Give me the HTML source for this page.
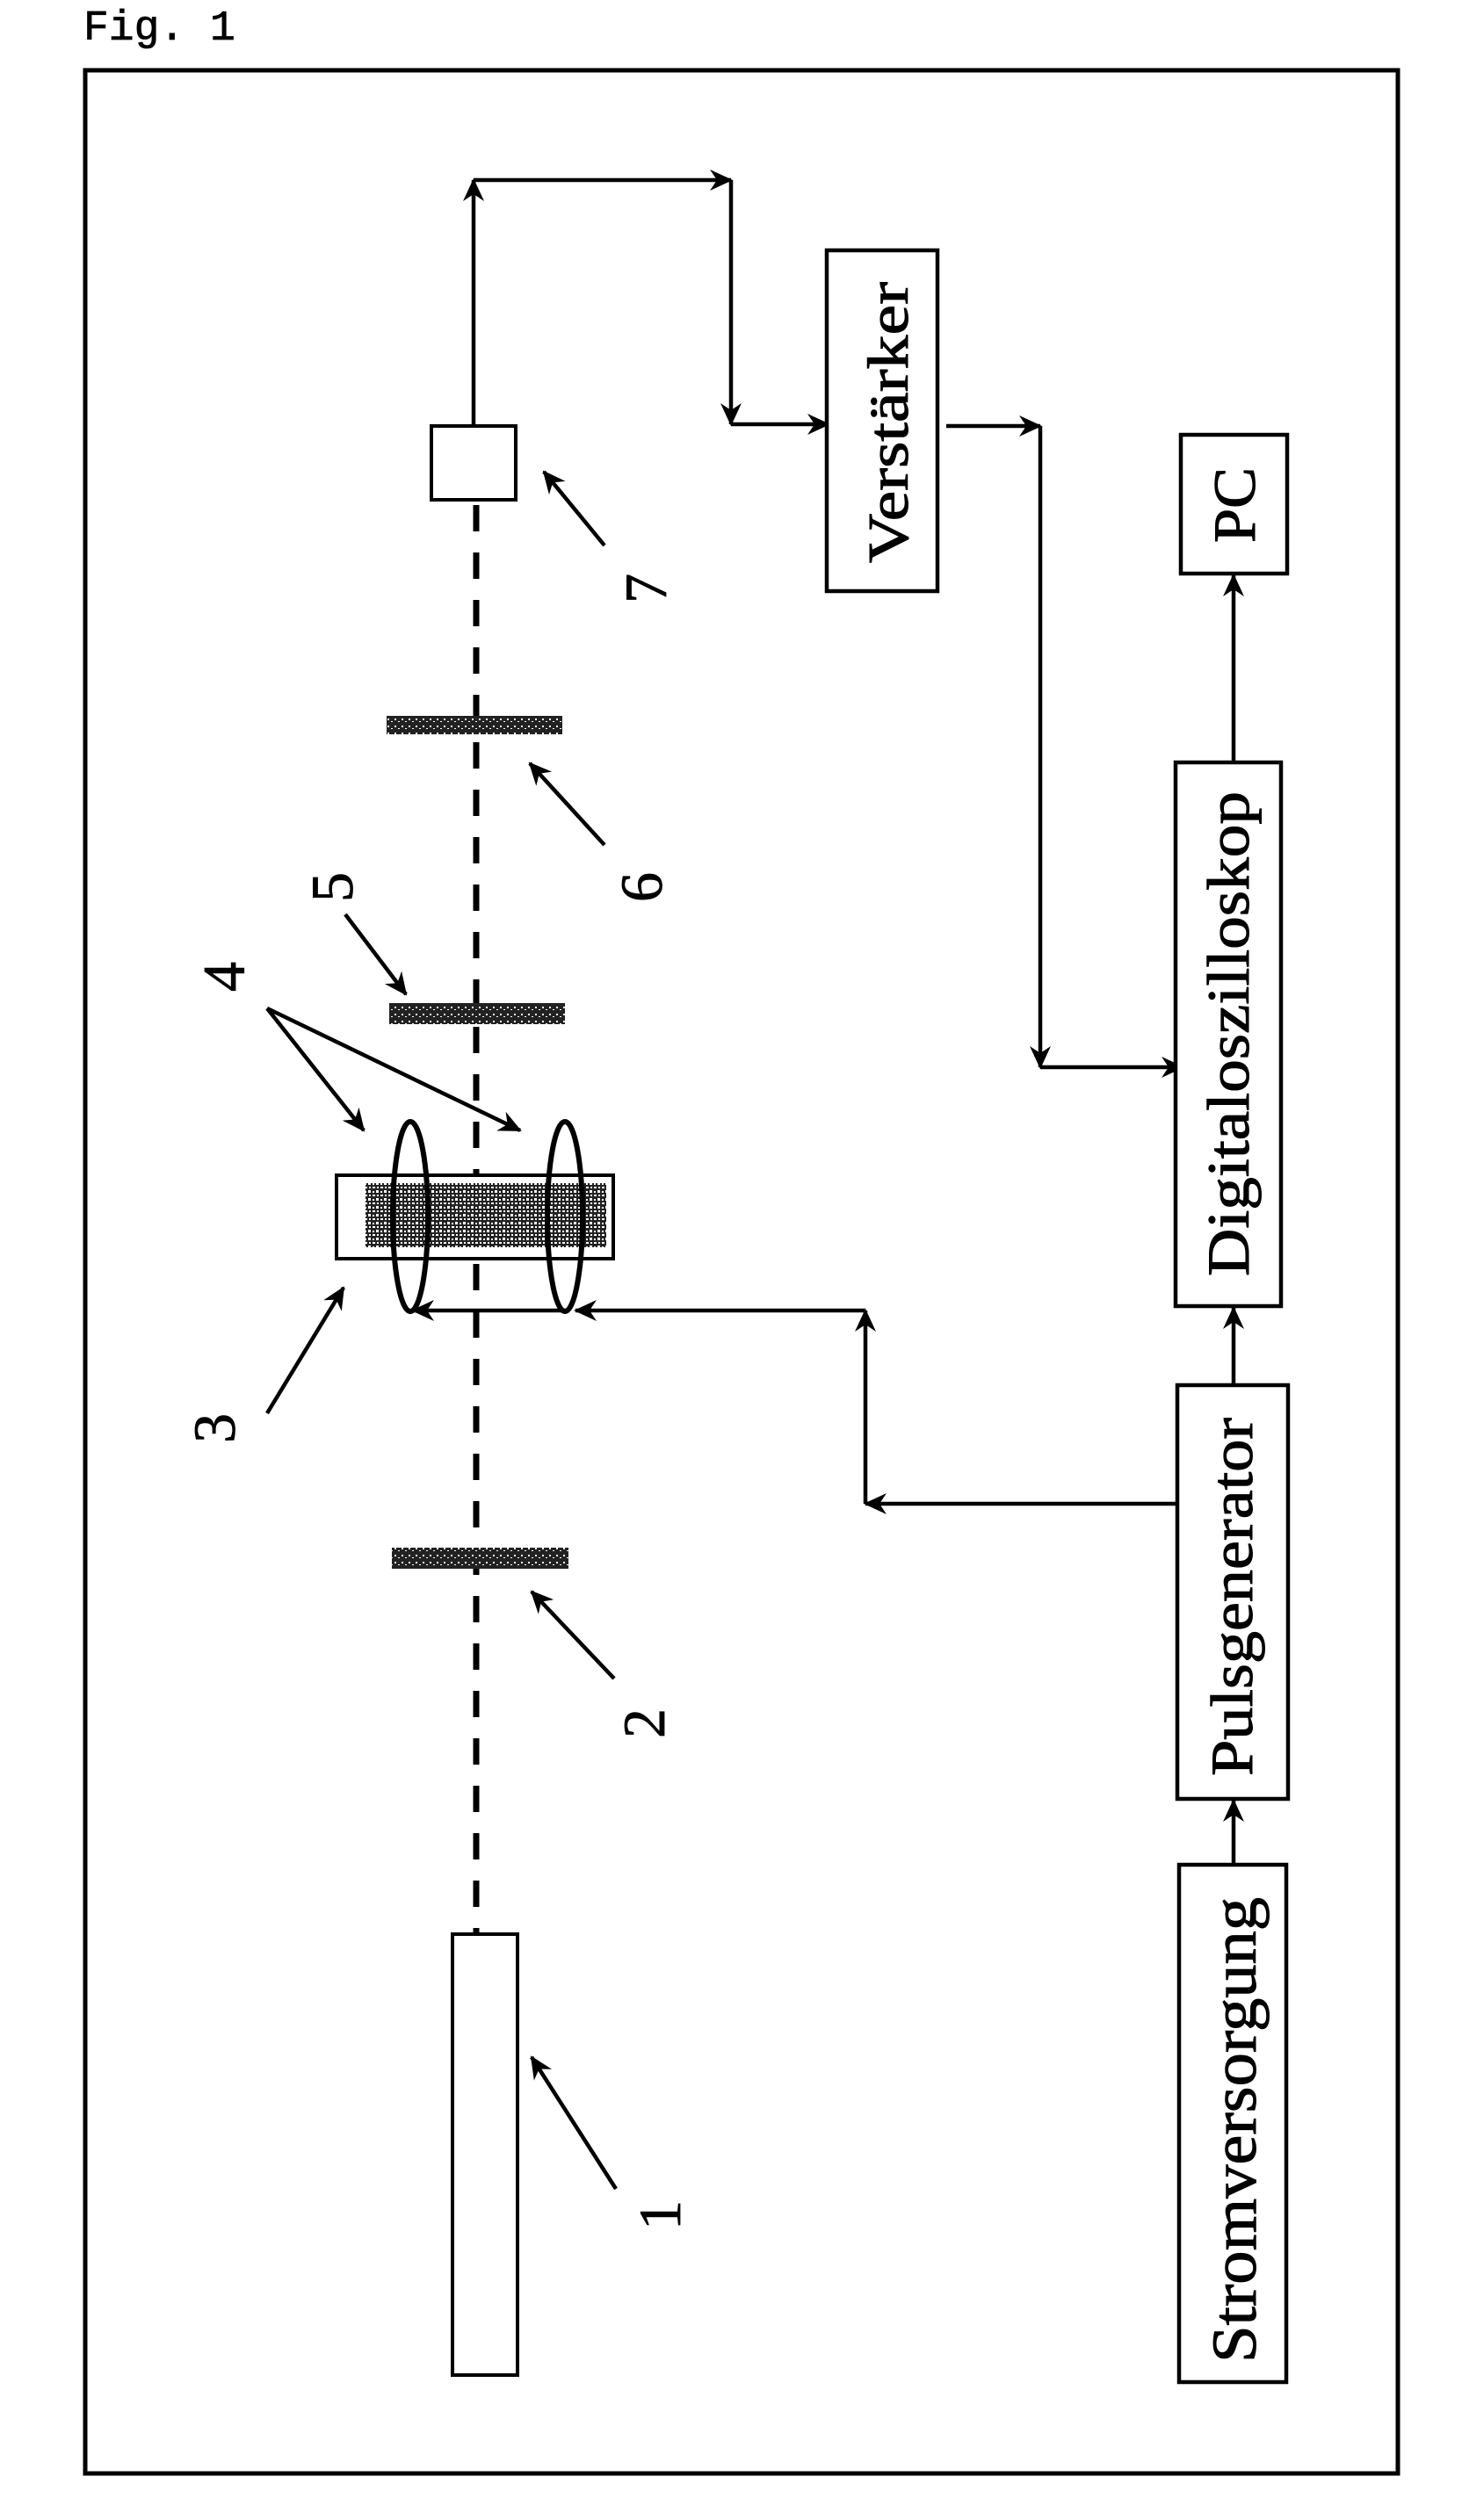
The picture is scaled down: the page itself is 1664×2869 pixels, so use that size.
<!DOCTYPE html>
<html><head><meta charset="utf-8"><style>
html,body{margin:0;padding:0;background:#fff;}
svg{display:block;}
</style></head><body>
<svg width="1664" height="2869" viewBox="0 0 1664 2869" xmlns="http://www.w3.org/2000/svg">
<defs>
<marker id="ah" viewBox="0 0 26 26" refX="24" refY="13" markerWidth="26" markerHeight="26" markerUnits="userSpaceOnUse" orient="auto">
<path d="M0,1 L26,13 L0,25 L8,13 Z" fill="#000"/>
</marker>
<pattern id="stip" width="8" height="8" patternUnits="userSpaceOnUse">
<rect width="8" height="8" fill="#222"/>
<rect x="1" y="2" width="2" height="2" fill="#fff"/>
<rect x="5" y="5" width="2" height="1" fill="#fff"/>
</pattern>
<pattern id="stip2" width="9" height="9" patternUnits="userSpaceOnUse">
<rect width="9" height="9" fill="#222"/>
<rect x="1" y="1" width="3" height="2" fill="#fff"/>
<rect x="5" y="5" width="3" height="3" fill="#fff"/>
<rect x="6" y="1" width="2" height="2" fill="#fff"/>
<rect x="1" y="6" width="2" height="2" fill="#fff"/>
</pattern>
</defs>

<text x="95" y="45" font-family="Liberation Mono, monospace" font-size="48" fill="#000" stroke="#000" stroke-width="0.8">Fig. 1</text>

<!-- frame -->
<rect x="97" y="80" width="1494" height="2736" fill="none" stroke="#000" stroke-width="5"/>

<!-- beam -->
<line x1="542" y1="575" x2="542" y2="2202" stroke="#000" stroke-width="7" stroke-dasharray="30,24"/>

<!-- detector 7 -->
<rect x="491" y="485" width="96" height="84" fill="#fff" stroke="#000" stroke-width="4"/>
<!-- filters -->
<rect x="440" y="815" width="200" height="21" fill="url(#stip)"/>
<rect x="443" y="1142" width="200" height="24" fill="url(#stip)"/>
<rect x="446" y="1762" width="201" height="24" fill="url(#stip)"/>
<!-- laser 1 -->
<rect x="515" y="2202" width="74" height="502" fill="#fff" stroke="#000" stroke-width="4"/>

<!-- cell 3 -->
<rect x="383" y="1338" width="315" height="95" fill="#fff" stroke="#000" stroke-width="4"/>
<rect x="416" y="1347" width="274" height="73" fill="url(#stip2)"/>
<!-- coils -->
<ellipse cx="467" cy="1385" rx="20" ry="108" fill="none" stroke="#000" stroke-width="6"/>
<ellipse cx="643" cy="1385" rx="20" ry="108" fill="none" stroke="#000" stroke-width="6"/>

<g stroke="#000" stroke-width="4.5" fill="none">
<!-- pulse to coils -->
<line x1="1346" y1="1712" x2="985" y2="1712" marker-end="url(#ah)"/>
<line x1="985" y1="1712" x2="985" y2="1492" marker-end="url(#ah)"/>
<line x1="985" y1="1492" x2="655" y2="1492" marker-end="url(#ah)"/>
<line x1="645" y1="1492" x2="470" y2="1492" marker-end="url(#ah)"/>

<!-- detector to amplifier -->
<line x1="539" y1="485" x2="539" y2="205" marker-end="url(#ah)"/>
<line x1="539" y1="205" x2="832" y2="205" marker-end="url(#ah)"/>
<line x1="832" y1="205" x2="832" y2="483" marker-end="url(#ah)"/>
<line x1="832" y1="483" x2="943" y2="483" marker-end="url(#ah)"/>

<!-- amplifier to scope -->
<line x1="1077" y1="485" x2="1184" y2="485" marker-end="url(#ah)"/>
<line x1="1184" y1="485" x2="1184" y2="1215" marker-end="url(#ah)"/>
<line x1="1184" y1="1215" x2="1346" y2="1215" marker-end="url(#ah)"/>

<!-- vertical chain arrows -->
<line x1="1404" y1="868" x2="1404" y2="655" marker-end="url(#ah)"/>
<line x1="1404" y1="1577" x2="1404" y2="1489" marker-end="url(#ah)"/>
<line x1="1404" y1="2123" x2="1404" y2="2050" marker-end="url(#ah)"/>
</g>

<!-- boxes -->
<g fill="#fff" stroke="#000" stroke-width="4.5">
<rect x="941" y="285" width="126" height="388"/>
<rect x="1344" y="495" width="121" height="158"/>
<rect x="1338" y="868" width="120" height="619"/>
<rect x="1340" y="1577" width="126" height="471"/>
<rect x="1342" y="2123" width="122" height="589"/>
</g>
<g font-family="Liberation Serif, serif" fill="#000" stroke="#000" stroke-width="1" text-anchor="middle">
<text transform="translate(1033,481) rotate(-90)" font-size="66" textLength="320" lengthAdjust="spacingAndGlyphs">Verstärker</text>
<text transform="translate(1428,575) rotate(-90)" font-size="68" textLength="86" lengthAdjust="spacingAndGlyphs">PC</text>
<text transform="translate(1421,1177) rotate(-90)" font-size="68" textLength="552" lengthAdjust="spacingAndGlyphs">Digitaloszilloskop</text>
<text transform="translate(1425,1818) rotate(-90)" font-size="68" textLength="408" lengthAdjust="spacingAndGlyphs">Pulsgenerator</text>
<text transform="translate(1429,2425) rotate(-90)" font-size="72" textLength="530" lengthAdjust="spacingAndGlyphs">Stromversorgung</text>
</g>

<!-- reference arrows -->
<g stroke="#000" stroke-width="4.5" fill="none" marker-end="url(#ah)">
<line x1="688" y1="621" x2="619" y2="537"/>
<line x1="688" y1="962" x2="603" y2="869"/>
<line x1="393" y1="1041" x2="462" y2="1132"/>
<line x1="304" y1="1148" x2="414" y2="1287"/>
<line x1="304" y1="1148" x2="592" y2="1287"/>
<line x1="304" y1="1609" x2="391" y2="1466"/>
<line x1="699" y1="1911" x2="605" y2="1812"/>
<line x1="701" y1="2492" x2="605" y2="2342"/>
</g>
<g font-family="Liberation Serif, serif" font-size="68" fill="#000" stroke="#000" stroke-width="0.8" text-anchor="middle">
<text transform="translate(758,670) rotate(-90)">7</text>
<text transform="translate(753,1010) rotate(-90)">6</text>
<text transform="translate(401,1010) rotate(-90)">5</text>
<text transform="translate(278,1112) rotate(-90)">4</text>
<text transform="translate(267,1626) rotate(-90)">3</text>
<text transform="translate(756,1962) rotate(-90)">2</text>
<text transform="translate(774,2522) rotate(-90)">1</text>
</g>
</svg>
</body></html>
